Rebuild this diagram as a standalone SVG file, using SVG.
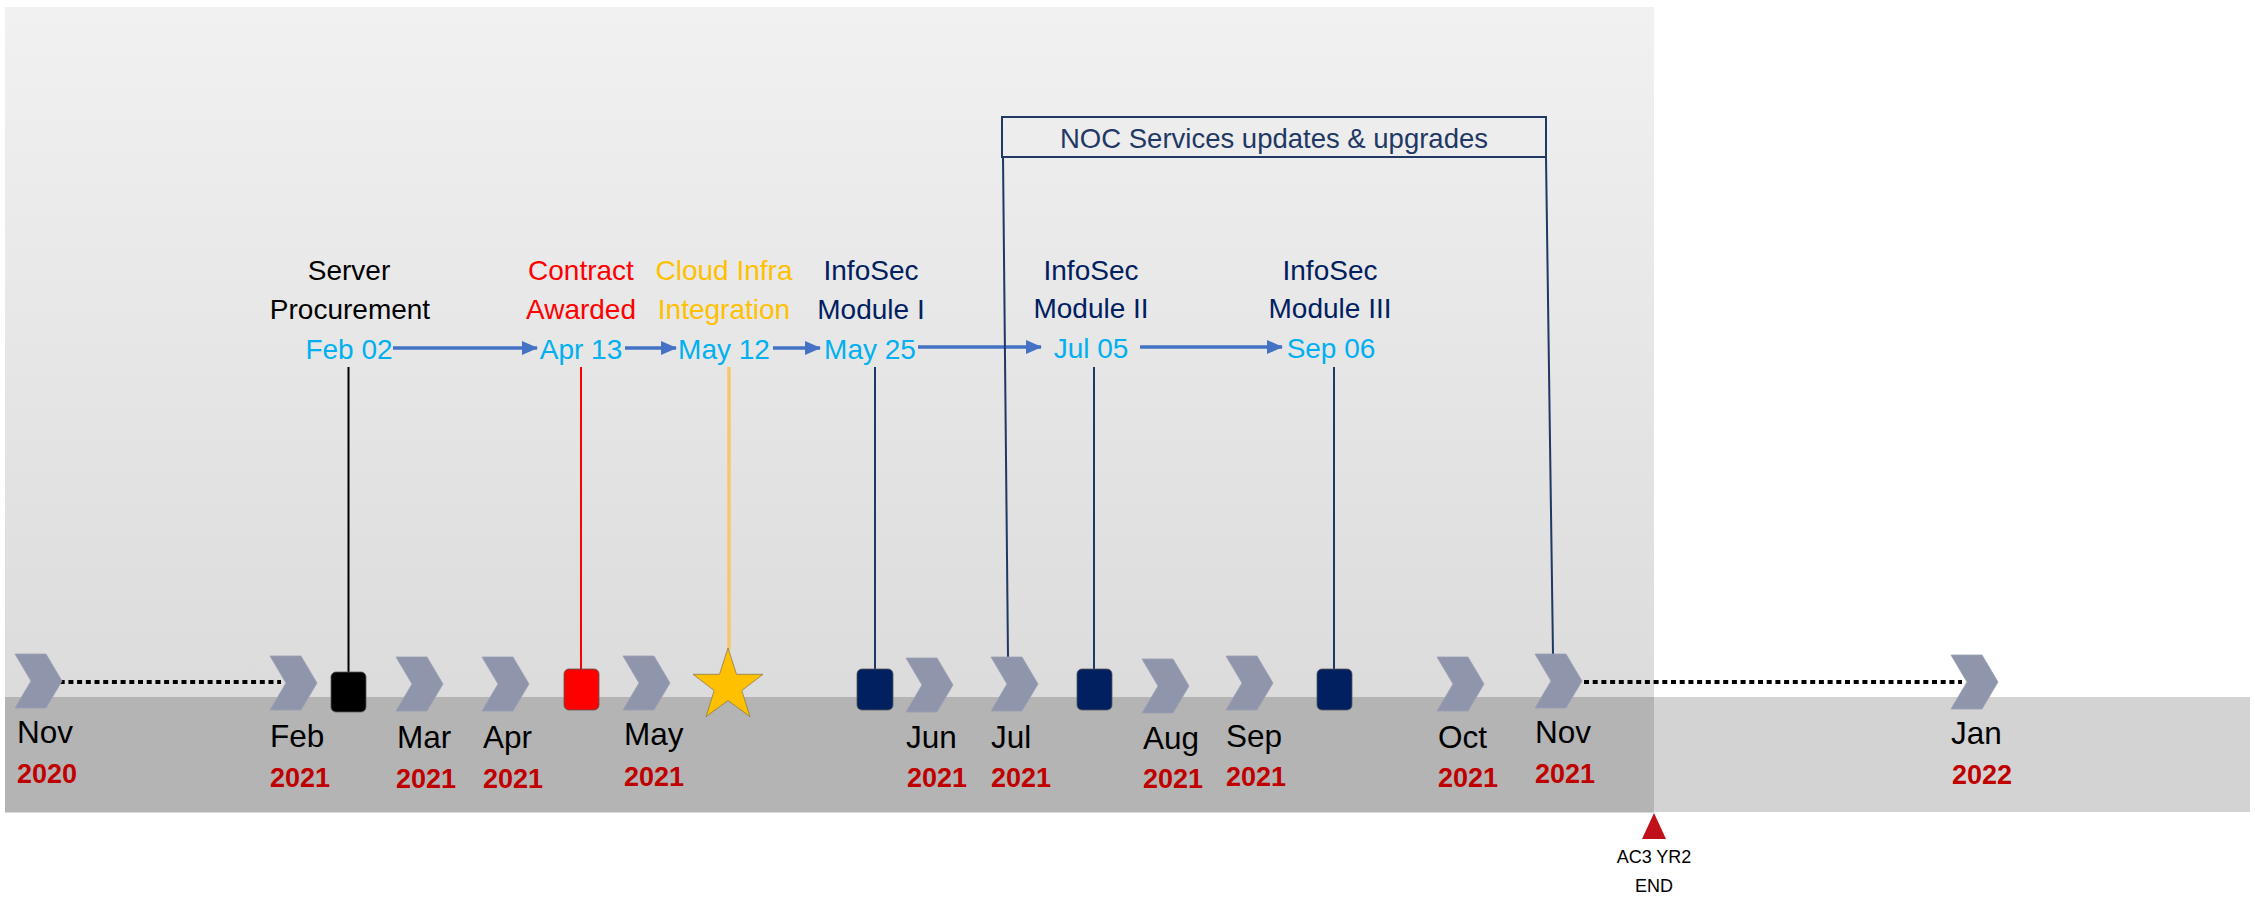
<svg xmlns="http://www.w3.org/2000/svg" width="2255" height="901" viewBox="0 0 2255 901">
<defs>
<linearGradient id="pg" x1="0" y1="0" x2="0" y2="1">
<stop offset="0" stop-color="#f1f1f1"/>
<stop offset="1" stop-color="#d8d8d8"/>
</linearGradient>
<path id="chev" d="M0,0 H31 L47,27 L31,54 H0 L16,27 Z"/>
<marker id="ah" markerUnits="userSpaceOnUse" markerWidth="16" markerHeight="14" refX="15" refY="7" orient="auto">
<path d="M0,0 L16,7 L0,14 Z" fill="#4472c4"/>
</marker>
<style>
.chev{fill:#8f96ac;stroke:#9aa0b3;stroke-width:0.8}
.mon{font-family:"Liberation Sans",Arial,sans-serif;font-size:31.5px;fill:#000}
.yr{font-family:"Liberation Sans",Arial,sans-serif;font-size:27px;font-weight:bold;fill:#c00000}
.lbl{font-family:"Liberation Sans",Arial,sans-serif;font-size:28px;text-anchor:middle}
.dt{fill:#00b0f0}
.nv{fill:#002060}
.arr{stroke:#4472c4;stroke-width:3.5;fill:none;marker-end:url(#ah)}
.sq{stroke:#555;stroke-width:0.8}
.dot{stroke:#000;stroke-width:4;stroke-dasharray:5 3.7;fill:none}
</style>
</defs>
<g id="background">
<rect x="5" y="7" width="1649" height="806" fill="url(#pg)"/>
<rect x="1654" y="697" width="596" height="115" fill="#d3d3d3"/>
<rect x="5" y="697" width="1649" height="115" fill="#b4b4b4"/>
</g>
<g id="connectors">
<line class="dot" x1="51" y1="682" x2="281" y2="682"/>
<line class="dot" x1="1584" y1="682" x2="1962" y2="682"/>
<line x1="348.5" y1="367" x2="348.5" y2="672" stroke="#000" stroke-width="2"/>
<line x1="581" y1="367" x2="581" y2="669" stroke="#ff0000" stroke-width="2"/>
<line x1="729" y1="367" x2="729" y2="650" stroke="#f4c96c" stroke-width="3.5"/>
<line x1="875" y1="367" x2="875" y2="669" stroke="#1f3864" stroke-width="2"/>
<line x1="1094" y1="367" x2="1094" y2="669" stroke="#1f3864" stroke-width="2"/>
<line x1="1334" y1="367" x2="1334" y2="669" stroke="#1f3864" stroke-width="2"/>
<line class="arr" x1="393" y1="348" x2="537" y2="348"/>
<line class="arr" x1="625" y1="348" x2="676" y2="348"/>
<line class="arr" x1="773" y1="348" x2="820" y2="348"/>
<line class="arr" x1="918" y1="347" x2="1041" y2="347"/>
<line class="arr" x1="1140" y1="347" x2="1282" y2="347"/>
</g>
<g id="noc-bracket">
<rect x="1002" y="117" width="544" height="40" fill="none" stroke="#1f3864" stroke-width="2"/>
<line x1="1003" y1="157" x2="1008" y2="657" stroke="#1f3864" stroke-width="2"/>
<line x1="1546" y1="157" x2="1553" y2="654" stroke="#1f3864" stroke-width="2"/>
<text x="1274" y="148" font-family="Liberation Sans, Arial, sans-serif" font-size="27.5" fill="#1f3864" text-anchor="middle">NOC Services updates &amp; upgrades</text>
</g>
<g id="chevrons">
<use href="#chev" class="chev" x="15" y="654"/>
<use href="#chev" class="chev" x="270" y="656"/>
<use href="#chev" class="chev" x="396" y="657"/>
<use href="#chev" class="chev" x="482" y="657"/>
<use href="#chev" class="chev" x="623" y="656"/>
<use href="#chev" class="chev" x="906" y="658"/>
<use href="#chev" class="chev" x="991" y="657"/>
<use href="#chev" class="chev" x="1142" y="659"/>
<use href="#chev" class="chev" x="1226" y="656"/>
<use href="#chev" class="chev" x="1437" y="657"/>
<use href="#chev" class="chev" x="1535" y="654"/>
<use href="#chev" class="chev" x="1951" y="655"/>
</g>
<g id="month-labels">
<text class="mon" x="17" y="743">Nov</text><text class="yr" x="17" y="783">2020</text>
<text class="mon" x="270" y="747">Feb</text><text class="yr" x="270" y="787">2021</text>
<text class="mon" x="397" y="748">Mar</text><text class="yr" x="396" y="788">2021</text>
<text class="mon" x="483" y="748">Apr</text><text class="yr" x="483" y="788">2021</text>
<text class="mon" x="624" y="745">May</text><text class="yr" x="624" y="786">2021</text>
<text class="mon" x="906" y="748">Jun</text><text class="yr" x="907" y="787">2021</text>
<text class="mon" x="991" y="748">Jul</text><text class="yr" x="991" y="787">2021</text>
<text class="mon" x="1143" y="749">Aug</text><text class="yr" x="1143" y="788">2021</text>
<text class="mon" x="1226" y="747">Sep</text><text class="yr" x="1226" y="786">2021</text>
<text class="mon" x="1438" y="748">Oct</text><text class="yr" x="1438" y="787">2021</text>
<text class="mon" x="1535" y="743">Nov</text><text class="yr" x="1535" y="783">2021</text>
<text class="mon" x="1951" y="744">Jan</text><text class="yr" x="1952" y="784">2022</text>
</g>
<g id="m-server">
<text class="lbl" x="349" y="280" fill="#000">Server</text>
<text class="lbl" x="350" y="319" fill="#000">Procurement</text>
<text class="lbl dt" x="349" y="359">Feb 02</text>
<rect class="sq" x="331" y="672" width="35" height="40" rx="5" fill="#000"/>
</g>
<g id="m-contract">
<text class="lbl" x="581" y="280" fill="#ff0000">Contract</text>
<text class="lbl" x="581" y="319" fill="#ff0000">Awarded</text>
<text class="lbl dt" x="581" y="359">Apr 13</text>
<rect class="sq" x="564" y="669" width="35" height="41" rx="5" fill="#ff0000"/>
</g>
<g id="m-cloud">
<text class="lbl" x="724" y="280" fill="#ffc000">Cloud Infra</text>
<text class="lbl" x="724" y="319" fill="#ffc000">Integration</text>
<text class="lbl dt" x="724" y="359">May 12</text>
<polygon points="728,648 736.5,674.3 763,674.3 741.8,690.5 750,716.7 728,700.5 706,716.7 714.2,690.5 693,674.3 719.5,674.3" fill="#ffc000" stroke="#8a7a50" stroke-width="0.8"/>
</g>
<g id="m-infosec1">
<text class="lbl nv" x="871" y="280">InfoSec</text>
<text class="lbl nv" x="871" y="319">Module I</text>
<text class="lbl dt" x="870" y="359">May 25</text>
<rect class="sq" x="857" y="669" width="36" height="41" rx="5" fill="#002060"/>
</g>
<g id="m-infosec2">
<text class="lbl nv" x="1091" y="280">InfoSec</text>
<text class="lbl nv" x="1091" y="318">Module II</text>
<text class="lbl dt" x="1091" y="358">Jul 05</text>
<rect class="sq" x="1077" y="669" width="35" height="41" rx="5" fill="#002060"/>
</g>
<g id="m-infosec3">
<text class="lbl nv" x="1330" y="280">InfoSec</text>
<text class="lbl nv" x="1330" y="318">Module III</text>
<text class="lbl dt" x="1331" y="358">Sep 06</text>
<rect class="sq" x="1317" y="669" width="35" height="41" rx="5" fill="#002060"/>
</g>
<g id="end-marker">
<polygon points="1654,813 1666,839 1642,839" fill="#c0111a"/>
<text x="1654" y="863" font-family="Liberation Sans, Arial, sans-serif" font-size="18" text-anchor="middle" fill="#000">AC3 YR2</text>
<text x="1654" y="892" font-family="Liberation Sans, Arial, sans-serif" font-size="18" text-anchor="middle" fill="#000">END</text>
</g>
</svg>
